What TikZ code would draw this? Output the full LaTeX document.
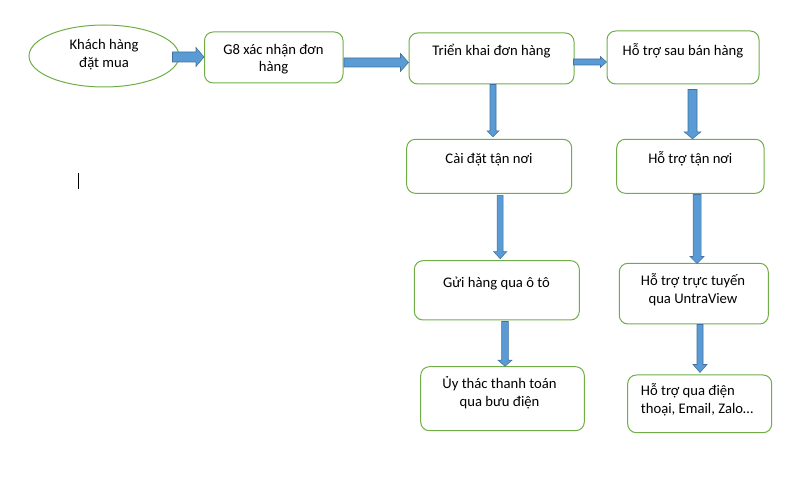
\documentclass[tikz,border=0pt]{standalone}
\usepackage{fontspec}
\setmainfont{Carlito}
\usetikzlibrary{shapes.geometric,fit,calc}
\definecolor{boxgreen}{HTML}{70AD47}
\definecolor{arrfill}{HTML}{5B9BD5}
\definecolor{arrline}{HTML}{41719C}
% #1 name, #2 #3 top-left, #4 #5 bottom-right (px)
\newcommand\boxat[5]{\coordinate (#1-a) at (#2,#3); \coordinate (#1-b) at (#4,#5); \node[box, fit=(#1-a)(#1-b)] (#1) {};}
% horizontal block arrow: #1 start, #2 end, #3 shaft half, #4 head half, #5 head length (px)
\newcommand\harrow[5]{\draw[blockarrow] let \p1=(#1), \p2=(#2) in
  (\x1,\y1+#3*0.75pt) -- (\x2-#5*0.75pt,\y1+#3*0.75pt) -- (\x2-#5*0.75pt,\y1+#4*0.75pt) -- (\x2,\y1)
  -- (\x2-#5*0.75pt,\y1-#4*0.75pt) -- (\x2-#5*0.75pt,\y1-#3*0.75pt) -- (\x1,\y1-#3*0.75pt) -- cycle;}
% vertical (downward) block arrow
\newcommand\varrow[5]{\draw[blockarrow] let \p1=(#1), \p2=(#2) in
  (\x1-#3*0.75pt,\y1) -- (\x1-#3*0.75pt,\y2+#5*0.75pt) -- (\x1-#4*0.75pt,\y2+#5*0.75pt) -- (\x1,\y2)
  -- (\x1+#4*0.75pt,\y2+#5*0.75pt) -- (\x1+#3*0.75pt,\y2+#5*0.75pt) -- (\x1+#3*0.75pt,\y1) -- cycle;}
\begin{document}
\begin{tikzpicture}[x=0.75pt,y=-0.75pt,
  box/.style={draw=boxgreen, line width=0.75pt, rounded corners=6.5pt, inner sep=0pt},
  txt/.style={font=\fontsize{11}{13.3}\selectfont, inner sep=0pt, align=center, text=black},
  blockarrow/.style={fill=arrfill, draw=arrline, line width=0.4pt, line join=miter}]
\useasboundingbox (0,0) rectangle (793,484);

% start ellipse
\node[ellipse, draw=boxgreen, line width=0.75pt, minimum width=150*0.75pt, minimum height=62*0.75pt, inner sep=0pt] (e) at (104,56) {};

% boxes
\boxat{b1}{204.5}{32}{343}{83}
\boxat{b2}{409}{33}{574}{84}
\boxat{b3}{607}{31}{759}{84}
\boxat{b4}{406.7}{139.3}{571.7}{193.3}
\boxat{b5}{616.7}{139.3}{764}{193.3}
\boxat{b6}{414.3}{260.7}{579.3}{320}
\boxat{b7}{619.3}{263.3}{768.3}{324}
\boxat{b8}{420.7}{366.7}{584.3}{430.7}
\boxat{b9}{627.7}{375}{771.7}{432.7}

% texts (multi-line nodes: base = last line)
\node[txt, anchor=base] (t0) at (104,67.5) {Khách hàng\\đặt mua};
\node[txt, anchor=base] (t1) at (273.5,72) {G8 xác nhận đơn\\hàng};
\node[txt, anchor=base] (t2) at (491.5,56) {Triển khai đơn hàng};
\node[txt, anchor=base] (t3) at (683,55.7) {Hỗ trợ sau bán hàng};
\node[txt, anchor=base] (t4) at (489,164) {Cài đặt tận nơi};
\node[txt, anchor=base] (t5) at (690.3,164) {Hỗ trợ tận nơi};
\node[txt, anchor=base] (t6) at (496.5,288) {Gửi hàng qua ô tô};
\node[txt, anchor=base] (t7) at (693,303.3) {Hỗ trợ trực tuyến\\qua UntraView};
\node[txt, anchor=base] (t8) at (499.5,406.7) {Ủy thác thanh toán\\qua bưu điện};
\node[txt, anchor=base west, align=left] (t9) at (640.7,413.3) {Hỗ trợ qua điện\\thoại, Email, Zalo…};

% arrows
\harrow{$(e.east)+(-7,1)$}{b1.west}{5}{9.5}{8}
\harrow{$(b1.east)+(0.5,5)$}{b2.west}{4.5}{9}{8}
\harrow{$(b2.east)+(-1,3.5)$}{b3.west}{3}{5.5}{6}
\varrow{$(b2.south)+(1.5,0)$}{$(b4.north)+(0,-2)$}{3}{6}{6}
\varrow{$(b3.south)+(9.5,5)$}{b5.north}{4.5}{8.5}{7}
\varrow{$(b4.south)+(11,1.5)$}{$(b6.north)+(0,-1.5)$}{3}{6.5}{7}
\varrow{$(b5.south)+(6.7,0.7)$}{$(b7.north)+(0,0.7)$}{4}{7}{7}
\varrow{$(b6.south)+(8.2,1)$}{b8.north}{3.3}{7}{6}
\varrow{$(b7.south)+(6.2,0)$}{$(b9.north)+(0,-2)$}{3}{7}{8}

% text cursor mark
\coordinate (c1) at (78,173);
\coordinate (c2) at (78,189);
\draw[black, line width=0.75pt] (c1) -- (c2);
\end{tikzpicture}
\end{document}
